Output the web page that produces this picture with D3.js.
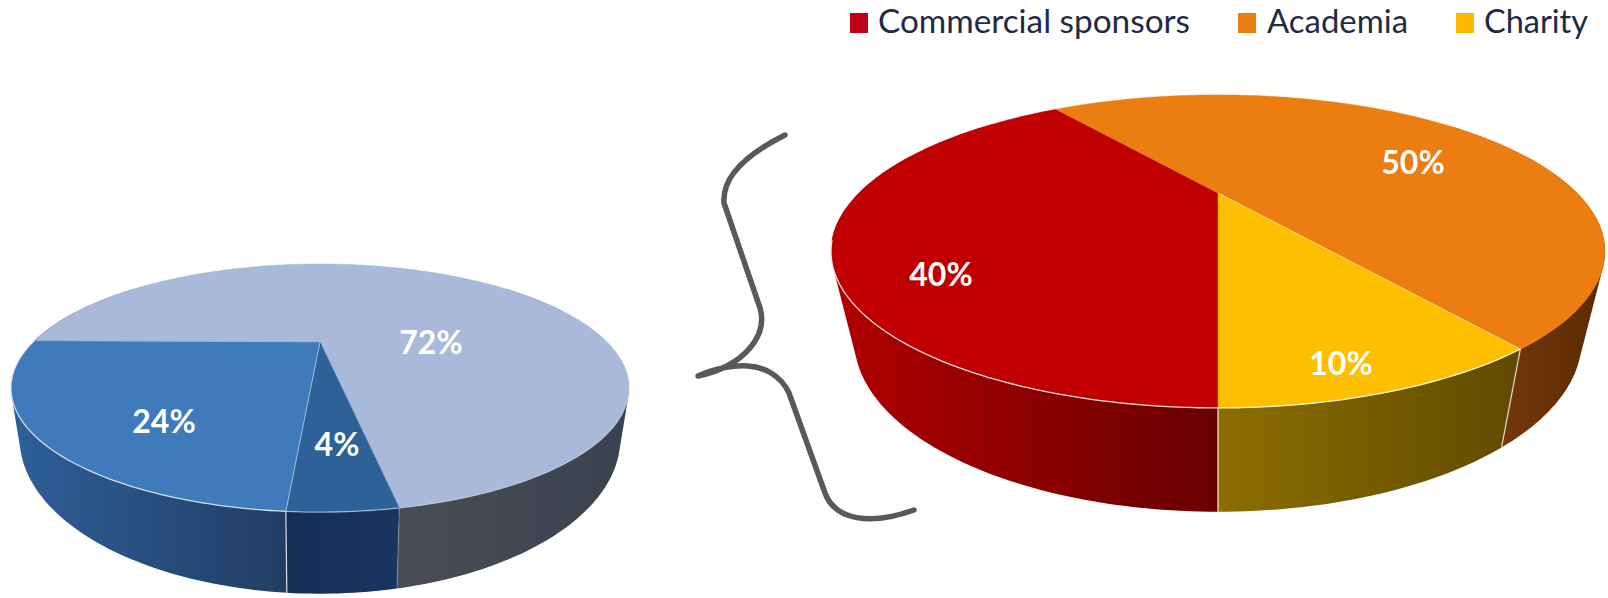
<!DOCTYPE html>
<html>
<head>
<meta charset="utf-8">
<script src="https://cdn.jsdelivr.net/npm/d3@7/dist/d3.min.js"></script>
<style>
  html, body { margin: 0; padding: 0; background: #fff; }
  svg { display: block; }
  text { font-family: Lato, "Open Sans", sans-serif; }
</style>
</head>
<body>
<svg id="chart" width="1608" height="598"></svg>
<script>
// Funding split, overall (left pie) and breakdown of its large share (right pie)
const overallLabels = ["72%", "4%", "24%"];
const overallValues = [72, 4, 24];
const overallTop = ["#a8b9d9", "#2f6199", "#3f7aba"];
const overallWallLeft = ["#4a4d53", "#152c55", "#2e5f9a"];
const overallWallRight = ["#3a4150", "#1a3560", "#223d64"];

const sponsorLabels = ["40%", "50%", "10%"];
const sponsorValues = [40, 50, 10];
const sponsorTop = ["#c00000", "#ec7d10", "#fdbf00"];
const sponsorWallLeft = ["#b20000", "#75380a", "#8c6e00"];
const sponsorWallRight = ["#680000", "#5a2900", "#604a00"];

const legendNames = ["Commercial sponsors", "Academia", "Charity"];
const legendColors = ["#c00018", "#ec7d10", "#fdb900"];

const svg = d3.select("#chart");
const defs = svg.append("defs");
const step = Math.PI / 180;

// Perspective projection of a flat disc: u runs left-right, v runs far-near
function projector(g) {
  return a => {
    const u = Math.sin(a), v = -Math.cos(a), d = 1 - g.k * v;
    return [g.cx + g.A * u / d, g.y0 + g.B * v / d];
  };
}

function arcAngles(a0, a1) {
  const n = Math.max(1, Math.ceil((a1 - a0) / step));
  return d3.range(n + 1).map(i => a0 + (a1 - a0) * i / n);
}

function drawPie(opt) {
  const top = projector(opt.top), base = projector(opt.base);
  const apex = [opt.top.cx, opt.top.y0];
  const slices = d3.pie().sort(null).value(d => d)
    .startAngle(opt.start).endAngle(opt.start + 2 * Math.PI)(opt.values);
  const line = d3.line();
  const g = svg.append("g");

  // Outer wall: one path of thin quads, all wound the same way so they fill as a union
  slices.forEach((s, i) => {
    const angles = arcAngles(s.startAngle, s.endAngle);
    const facing = angles.filter(a => -Math.cos(a) >= 0);
    if (!facing.length) return;
    const xs = facing.flatMap(a => [top(a)[0], base(a)[0]]);
    const id = `${opt.id}-wall-${i}`;
    const grad = defs.append("linearGradient").attr("id", id)
      .attr("gradientUnits", "userSpaceOnUse")
      .attr("x1", d3.min(xs)).attr("x2", d3.max(xs)).attr("y1", 0).attr("y2", 0);
    grad.append("stop").attr("offset", 0).attr("stop-color", opt.wallLeft[i]);
    grad.append("stop").attr("offset", 1).attr("stop-color", opt.wallRight[i]);
    const quads = d3.pairs(angles)
      .filter(([a, b]) => -Math.cos(a) >= -0.6 || -Math.cos(b) >= -0.6)
      .map(([a, b]) => {
        const q = [top(a), top(b), base(b), base(a)];
        return line(d3.polygonArea(q) < 0 ? q.reverse() : q) + "Z";
      });
    g.append("path").attr("d", quads.join("")).attr("fill", `url(#${id})`);
  });

  // White seams where the slices meet on the wall
  opt.seams.forEach(([i, alpha]) => {
    const a = slices[i].endAngle;
    g.append("path").attr("d", line([top(a), base(a)]))
      .attr("stroke", "#fff").attr("stroke-opacity", alpha).attr("stroke-width", 1.3);
  });

  // Top surface
  slices.forEach((s, i) => {
    const pts = arcAngles(s.startAngle, s.endAngle).map(top);
    g.append("path")
      .attr("d", line([apex, ...pts]) + "Z")
      .attr("fill", opt.colors[i]).attr("stroke", opt.colors[i]).attr("stroke-width", 0.5);
  });

  // Light rim along the near edge and the slice dividers
  opt.rims.forEach(([i, from, to, alpha]) => {
    const s = slices[i];
    const a0 = s.startAngle + (s.endAngle - s.startAngle) * from;
    const a1 = s.startAngle + (s.endAngle - s.startAngle) * to;
    g.append("path").attr("d", line(arcAngles(a0, a1).map(top))).attr("fill", "none")
      .attr("stroke", "#fff").attr("stroke-opacity", alpha).attr("stroke-width", 1.3);
  });
  opt.dividers.forEach(([i, alpha]) => {
    g.append("path").attr("d", line([apex, top(slices[i].endAngle)]))
      .attr("stroke", "#fff").attr("stroke-opacity", alpha).attr("stroke-width", 1);
  });

  // Percentage labels
  opt.labels.forEach((t, i) => {
    g.append("text")
      .attr("x", opt.labelAt[i][0]).attr("y", opt.labelAt[i][1])
      .attr("text-anchor", "middle").attr("dominant-baseline", "central")
      .attr("font-size", opt.labelSize).attr("font-weight", 700).attr("fill", "#fff")
      .text(t);
  });
}

drawPie({
  id: "overall",
  values: overallValues, labels: overallLabels, colors: overallTop,
  wallLeft: overallWallLeft, wallRight: overallWallRight,
  start: 1.5 * Math.PI + 0.7 * step,
  top: { cx: 320, y0: 342, A: 287, B: 107, k: 0.371 },
  base: { cx: 320, y0: 381, A: 279, B: 134, k: 0.37 },
  seams: [[0, 0.2], [1, 0.75]],
  rims: [[2, 0, 1, 0.75], [1, 0, 1, 0.5], [0, 0.62, 1, 0.2]],
  dividers: [[1, 0.5], [2, 0.3]],
  labelAt: [[431, 341], [337, 443], [164, 420]],
  labelSize: 32
});

drawPie({
  id: "sponsor",
  values: sponsorValues, labels: sponsorLabels, colors: sponsorTop,
  wallLeft: sponsorWallLeft, wallRight: sponsorWallRight,
  start: Math.PI,
  top: { cx: 1218, y0: 193, A: 359, B: 134.7, k: 0.3733 },
  base: { cx: 1218, y0: 276, A: 338, B: 148.5, k: 0.37 },
  seams: [[2, 0.85], [1, 0.7]],
  rims: [[0, 0, 0.5, 0.85], [2, 0, 1, 0.8]],
  dividers: [[1, 0.45]],
  labelAt: [[941, 273], [1413, 161], [1341, 362]],
  labelSize: 32
});

// Brace tying the two pies together
const brace = d3.path();
brace.moveTo(785, 135);
brace.bezierCurveTo(745, 155, 722, 178, 724, 203);
brace.lineTo(760, 308);
brace.bezierCurveTo(768, 335, 745, 366, 698, 376);
brace.bezierCurveTo(715, 368, 735, 365, 748, 366);
brace.bezierCurveTo(765, 367, 781, 376, 789, 393);
brace.lineTo(825, 493);
brace.bezierCurveTo(835, 520, 870, 526, 914, 510);
svg.append("path").attr("d", brace.toString()).attr("fill", "none")
  .attr("stroke", "#595959").attr("stroke-width", 5.5)
  .attr("stroke-linecap", "round").attr("stroke-linejoin", "round");

// Legend across the top right
const legendBoxX = [850, 1238, 1456];
const legendTextX = [878, 1267, 1484];
const legendTextW = [312, 141, 104];
const legend = svg.append("g");
legendNames.forEach((name, i) => {
  legend.append("rect")
    .attr("x", legendBoxX[i]).attr("y", 13).attr("width", 18).attr("height", 20)
    .attr("fill", legendColors[i]);
  legend.append("text")
    .attr("x", legendTextX[i]).attr("y", 33)
    .attr("font-size", 32).attr("fill", "#1f2a44")
    .attr("textLength", legendTextW[i]).attr("lengthAdjust", "spacingAndGlyphs")
    .text(name);
});
</script>
</body>
</html>
